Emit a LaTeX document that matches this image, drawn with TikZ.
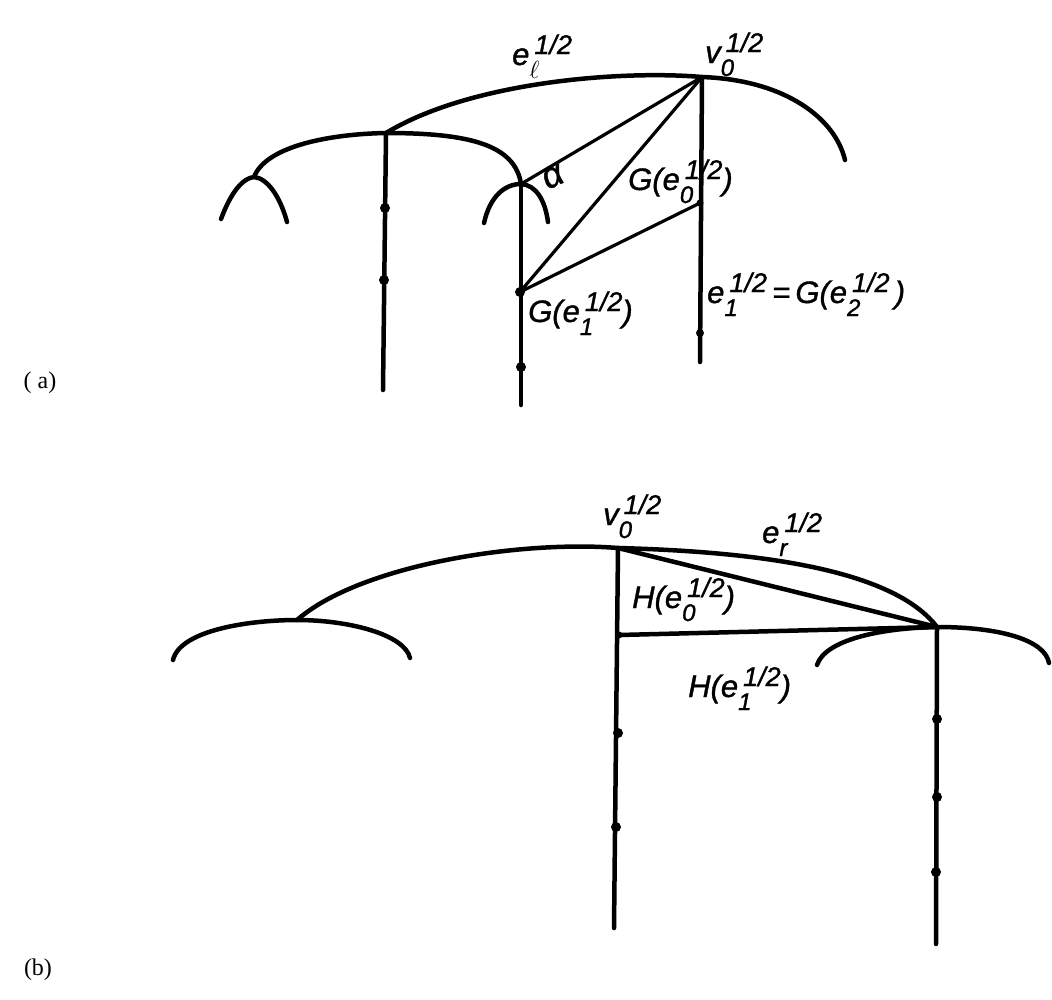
\documentclass[tikz,border=0pt]{standalone}
\usepackage{fontspec}
\newfontfamily\hand{Liberation Sans}[FakeBold=1.2]
\newfontfamily\tms{Liberation Serif}
\newcommand{\subf}{\fontsize{24}{24}\selectfont}
\newcommand{\supf}{\fontsize{27}{27}\selectfont}
\newcommand{\es}[2]{\rlap{\raisebox{-13pt}{\subf #1}}\kern5pt\raisebox{11pt}{\supf #2}}
\tikzset{
  edge/.style={line width=4.5pt, line cap=round, line join=round},
  thin edge/.style={line width=3.2pt, line cap=round},
  dot/.style={circle, fill=black, inner sep=0pt, minimum size=10pt},
  lab/.style={anchor=base west, inner sep=0pt, font=\hand\itshape\fontsize{31}{31}\selectfont},
  tag/.style={inner sep=0pt, font=\tms\fontsize{24}{28}\selectfont}
}
\begin{document}
\begin{tikzpicture}[x=1pt,y=-1pt]
\useasboundingbox (0,0) rectangle (1052,999);
% ---------------- (a) ----------------
\coordinate (v0a) at (702,77);
\coordinate (A) at (386,133);
\coordinate (Ea) at (845,160);
\coordinate (L) at (254,177);
\coordinate (B) at (521,184);
\coordinate (La) at (221,219);
\coordinate (Lb) at (287,222);
\coordinate (Ba) at (484,223);
\coordinate (Bb) at (548,222);
\coordinate (Abot) at (383,390);
\coordinate (Bbot) at (521,405);
\coordinate (Vbot) at (700,362);
\coordinate (G1) at (520,292);
\coordinate (P) at (700,203);
% big arc
\draw[edge] (A) .. controls (470,82) and (620,70) .. (v0a)
            .. controls (785,80) and (835,118) .. (Ea);
% sub arc
\draw[edge] (L) .. controls (266,146) and (330,134) .. (A)
            .. controls (470,133) and (515,145) .. (B);
% small arches
\draw[edge] (La) .. controls (231,192) and (243,178) .. (L)
            .. controls (267,178) and (280,196) .. (Lb);
\draw[edge] (Ba) .. controls (490,196) and (505,184) .. (B)
            .. controls (536,185) and (545,200) .. (Bb);
% verticals
\draw[edge] (A) -- (Abot);
\draw[edge] (B) -- (Bbot);
\draw[edge] (v0a) -- (Vbot);
% diagonals
\draw[thin edge] (v0a) -- (B);
\draw[thin edge] (v0a) -- (G1);
\draw[thin edge] (G1) -- (P);
% dots
\node[dot] (da1) at (385,208) {};
\node[dot] (da2) at (384,280) {};
\node[dot] (dg1) at (G1) {};
\node[dot] (da3) at (521,367) {};
\node[dot, minimum size=7pt] (dp) at (P) {};
\node[dot, minimum size=8pt] (da4) at (700,333) {};
% labels
\node[lab] (lel) at (512,65) {e\es{$\ell$}{1/2}};
\node[lab] (lv0a) at (705,63) {v\es{0}{1/2}};
\node[lab, anchor=center, rotate=25, font=\hand\itshape\fontsize{36}{36}\selectfont] (lalpha) at (553,177) {α};
\node[lab] (lG0) at (628,190) {G(e\es{0}{1/2})};
\node[lab] (lG1) at (528,322) {G(e\es{1}{1/2})};
\node[lab] (lG2) at (707,303) {e\es{1}{1/2}\,=\,G(e\es{2}{1/2}\,)};
\node[tag] (ta) at (40,383) {( a)};
% ---------------- (b) ----------------
\coordinate (v0b) at (618,548);
\coordinate (C) at (297,620);
\coordinate (D) at (937,627);
\coordinate (Ca) at (173,660);
\coordinate (Cb) at (410,658);
\coordinate (Da) at (817,665);
\coordinate (Db) at (1049,663);
\coordinate (H) at (619,635);
\coordinate (Lbot) at (614,928);
\coordinate (Rbot) at (936,944);
\draw[edge] (C) .. controls (360,565) and (520,540) .. (v0b)
            .. controls (770,552) and (895,572) .. (D);
\draw[edge] (Ca) .. controls (180,630) and (250,620) .. (C)
            .. controls (350,620) and (405,635) .. (Cb);
\draw[edge] (Da) .. controls (825,640) and (880,628) .. (D)
            .. controls (1000,627) and (1045,640) .. (Db);
\draw[edge] (v0b) -- (Lbot);
\draw[edge] (D) -- (Rbot);
\draw[edge] (v0b) -- (D);
\draw[edge] (H) -- (D);
\node[dot, minimum size=7pt] (db0) at (H) {};
\node[dot] (db1) at (618,733) {};
\node[dot] (db2) at (616,827) {};
\node[dot] (db3) at (937,719) {};
\node[dot] (db4) at (937,797) {};
\node[dot] (db5) at (936,872) {};
\node[lab] (lv0b) at (603,525) {v\es{0}{1/2}};
\node[lab] (ler) at (762,543) {e\es{r}{1/2}};
\node[lab] (lH0) at (632,608) {H(e\es{0}{1/2})};
\node[lab] (lH1) at (688,697) {H(e\es{1}{1/2})};
\node[tag] (tb) at (38,970) {(b)};
\end{tikzpicture}
\end{document}
